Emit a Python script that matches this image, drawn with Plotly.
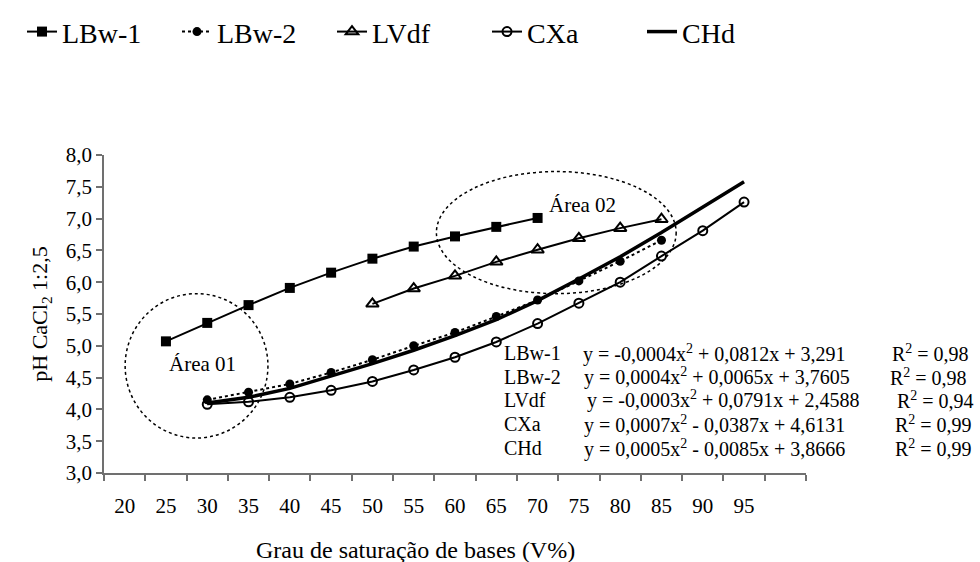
import plotly.graph_objects as go

# ---- data ----
x_lbw1 = [25, 30, 35, 40, 45, 50, 55, 60, 65, 70]
y_lbw1 = [5.07, 5.36, 5.64, 5.91, 6.15, 6.37, 6.56, 6.72, 6.87, 7.01]

x_lbw2 = [30, 35, 40, 45, 50, 55, 60, 65, 70, 75, 80, 85]
y_lbw2 = [4.15, 4.27, 4.40, 4.58, 4.78, 5.00, 5.21, 5.46, 5.72, 6.02, 6.33, 6.66]

x_lvdf = [50, 55, 60, 65, 70, 75, 80, 85]
y_lvdf = [5.66, 5.90, 6.10, 6.32, 6.51, 6.69, 6.85, 6.99]

x_cxa = [30, 35, 40, 45, 50, 55, 60, 65, 70, 75, 80, 85, 90, 95]
y_cxa = [4.08, 4.12, 4.19, 4.30, 4.44, 4.62, 4.82, 5.06, 5.35, 5.67, 6.00, 6.41, 6.81, 7.26]

x_chd = [30, 35, 40, 45, 50, 55, 60, 65, 70, 75, 80, 85, 90, 95]
y_chd = [4.10, 4.19, 4.33, 4.52, 4.72, 4.93, 5.16, 5.41, 5.71, 6.05, 6.40, 6.78, 7.18, 7.58]

x_ticks = [20, 25, 30, 35, 40, 45, 50, 55, 60, 65, 70, 75, 80, 85, 90, 95]
x_ticklabels = [str(v) for v in x_ticks]

eq_names = ["LBw-1", "LBw-2", "LVdf", "CXa", "CHd"]
eq_texts = [
    "y = -0,0004x<sup>2</sup> + 0,0812x + 3,291",
    "y = 0,0004x<sup>2</sup> + 0,0065x + 3,7605",
    "y = -0,0003x<sup>2</sup> + 0,0791x + 2,4588",
    "y = 0,0007x<sup>2</sup> - 0,0387x + 4,6131",
    "y = 0,0005x<sup>2</sup> - 0,0085x + 3,8666",
]
eq_r2 = ["R<sup>2</sup> = 0,98", "R<sup>2</sup> = 0,98", "R<sup>2</sup> = 0,94",
         "R<sup>2</sup> = 0,99", "R<sup>2</sup> = 0,99"]

SERIF = "Liberation Serif"

fig = go.Figure()
fig.add_trace(go.Scatter(x=x_lbw1, y=y_lbw1, name="LBw-1", mode="lines+markers",
                         line=dict(color="black", width=2),
                         marker=dict(symbol="square", size=10, color="black")))
fig.add_trace(go.Scatter(x=x_lbw2, y=y_lbw2, name="LBw-2", mode="lines+markers",
                         line=dict(color="black", width=2, dash="dot"),
                         marker=dict(symbol="circle", size=9, color="black")))
fig.add_trace(go.Scatter(x=x_lvdf, y=y_lvdf, name="LVdf", mode="lines+markers",
                         line=dict(color="black", width=2),
                         marker=dict(symbol="triangle-up-open", size=11, color="black",
                                     line=dict(width=2))))
fig.add_trace(go.Scatter(x=x_cxa, y=y_cxa, name="CXa", mode="lines+markers",
                         line=dict(color="black", width=2),
                         marker=dict(symbol="circle-open", size=9, color="black",
                                     line=dict(width=2))))
fig.add_trace(go.Scatter(x=x_chd, y=y_chd, name="CHd", mode="lines",
                         line=dict(color="black", width=3.5)))

# dotted ellipses
fig.add_shape(type="circle", xref="x", yref="y", x0=20.06, x1=37.35, y0=3.55, y1=5.82,
              line=dict(color="black", width=1.5, dash="dot"))
fig.add_shape(type="circle", xref="x", yref="y", x0=57.75, x1=86.78, y0=5.82, y1=7.74,
              line=dict(color="black", width=1.5, dash="dot"))

fig.add_annotation(x=29.4, y=4.72, xref="x", yref="y", text="Área 01", showarrow=False,
                   font=dict(family=SERIF, size=21, color="black"))
fig.add_annotation(x=75.45, y=7.21, xref="x", yref="y", text="Área 02", showarrow=False,
                   font=dict(family=SERIF, size=21, color="black"))

row_y = [0.377, 0.302, 0.231, 0.154, 0.078]
eq_x = [0.680, 0.681, 0.685, 0.681, 0.681]
r2_x = [1.120, 1.117, 1.127, 1.124, 1.124]
for i in range(5):
    fig.add_annotation(x=0.567, y=row_y[i], xref="paper", yref="paper", text=eq_names[i],
                       showarrow=False, xanchor="left", yanchor="middle",
                       font=dict(family=SERIF, size=20, color="black"))
    fig.add_annotation(x=eq_x[i], y=row_y[i], xref="paper", yref="paper", text=eq_texts[i],
                       showarrow=False, xanchor="left", yanchor="middle",
                       font=dict(family=SERIF, size=20, color="black"))
    fig.add_annotation(x=r2_x[i], y=row_y[i], xref="paper", yref="paper", text=eq_r2[i],
                       showarrow=False, xanchor="left", yanchor="middle",
                       font=dict(family=SERIF, size=20, color="black"))

# x-axis title as text below the axis
fig.add_annotation(x=(415 - 104) / 702, y=-77 / 317.5, xref="paper", yref="paper",
                   text="Grau de saturação de bases (V%)", showarrow=False,
                   xanchor="center", yanchor="middle",
                   font=dict(family=SERIF, size=24, color="black"))

fig.update_layout(
    width=980, height=562,
    margin=dict(l=104, r=174, t=155, b=89, autoexpand=False),
    paper_bgcolor="white", plot_bgcolor="white",
    separators=",.",
    font=dict(family=SERIF, color="black"),
    showlegend=True,
    legend=dict(orientation="h", xref="paper", yref="paper",
                x=-82 / 702, y=1 + 123 / 317.7, xanchor="left", yanchor="middle",
                font=dict(family=SERIF, size=28, color="black"),
                entrywidth=110, entrywidthmode="pixels",
                bgcolor="rgba(0,0,0,0)"),
    xaxis=dict(range=[17.5, 102.5], tickmode="array", tickvals=x_ticks,
               ticktext=x_ticklabels, ticks="", showgrid=False, zeroline=False,
               showline=True, linecolor="#707070", linewidth=1.5,
               tickfont=dict(family=SERIF, size=21, color="black"),
               ticklabelstandoff=13,
               minor=dict(tickmode="linear", tick0=17.5, dtick=5, ticks="outside",
                          ticklen=6, tickcolor="#707070", tickwidth=1.5, showgrid=False)),
    yaxis=dict(range=[3, 8], dtick=0.5, tickformat=".1f", ticks="outside", ticklen=6,
               tickcolor="#707070", tickwidth=1.5, showgrid=False, zeroline=False,
               showline=True, linecolor="#707070", linewidth=1.5,
               tickfont=dict(family=SERIF, size=21, color="black"),
               title=dict(text="pH CaCl<sub>2</sub> 1:2,5", standoff=12,
                          font=dict(family=SERIF, size=22, color="black"))),
)

fig.write_html("out.html")
